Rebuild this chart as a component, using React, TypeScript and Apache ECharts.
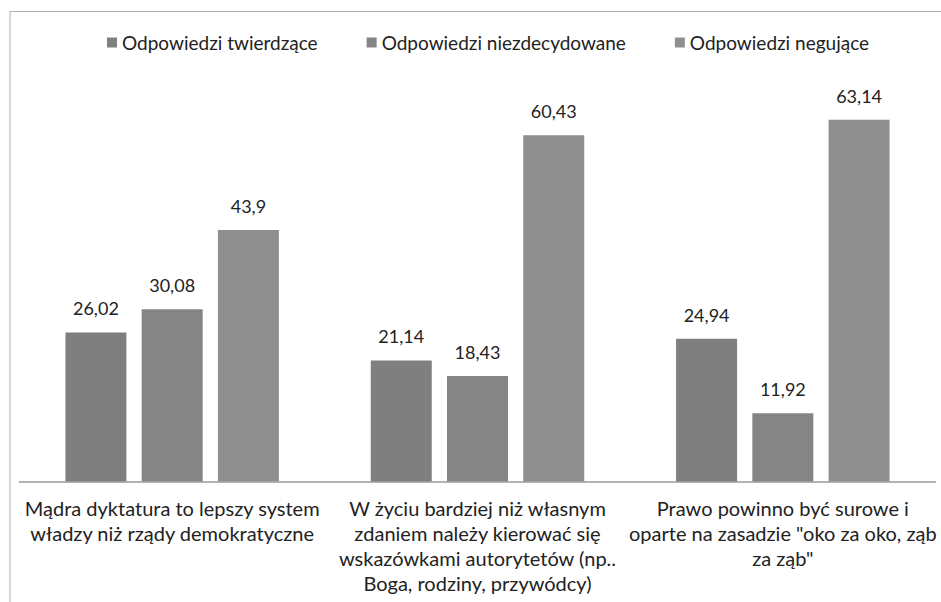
import React, { useEffect, useRef } from "react";
import * as echarts from "echarts";

const categories = [
  "Mądra dyktatura to lepszy system\nwładzy niż rządy demokratyczne",
  "W życiu bardziej niż własnym\nzdaniem należy kierować się\nwskazówkami autorytetów (np..\nBoga, rodziny, przywódcy)",
  "Prawo powinno być surowe i\noparte na zasadzie \"oko za oko, ząb\nza ząb\"",
];
const seriesNames = [
  "Odpowiedzi twierdzące",
  "Odpowiedzi niezdecydowane",
  "Odpowiedzi negujące",
];
const twierdzace = [26.02, 21.14, 24.94];
const niezdecydowane = [30.08, 18.43, 11.92];
const negujace = [43.9, 60.43, 63.14];
const colors = ["#7f7f7f", "#858585", "#8f8f8f"];

const FONT = "Lato, 'Noto Sans', sans-serif";
const fmt = (v: number) => String(v).replace(".", ",");

export default function App() {
  const ref = useRef<HTMLDivElement>(null);
  useEffect(() => {
    if (!ref.current) return;
    const chart = echarts.init(ref.current, null, { renderer: "svg" });
    const data = [twierdzace, niezdecydowane, negujace];
    chart.setOption({
      animation: false,
      backgroundColor: "#ffffff",
      textStyle: { fontFamily: FONT },
      legend: {
        top: 28,
        left: 102,
        itemWidth: 10,
        itemHeight: 10,
        itemGap: 49,
        icon: "rect",
        textStyle: { fontFamily: FONT, fontSize: 19, color: "#222" },
        data: seriesNames,
      },
      grid: { left: 19.5, right: 5.5, top: 80.5, bottom: 120.5, containLabel: false },
      xAxis: {
        type: "category",
        data: categories,
        axisTick: { show: false },
        axisLine: { lineStyle: { color: "#9a9a9a", width: 1.5 } },
        axisLabel: {
          interval: 0,
          fontFamily: FONT,
          fontSize: 20,
          lineHeight: 25,
          color: "#222",
          margin: 14,
        },
      },
      yAxis: {
        type: "value",
        min: 0,
        max: 70,
        show: false,
        splitLine: { show: false },
      },
      series: data.map((d, i) => ({
        name: seriesNames[i],
        type: "bar",
        data: d,
        barWidth: 61,
        barGap: "25%",
        itemStyle: { color: colors[i] },
        label: {
          show: true,
          position: "top",
          distance: 15,
          fontFamily: FONT,
          fontSize: 18,
          color: "#222",
          formatter: (p: any) => fmt(p.value),
        },
      })),
      graphic: [
        { type: "line", shape: { x1: 10, y1: 11.5, x2: 941, y2: 11.5 }, style: { stroke: "#b0b0b0", lineWidth: 1 } },
        { type: "line", shape: { x1: 10, y1: 11.5, x2: 10, y2: 602 }, style: { stroke: "#b0b0b0", lineWidth: 1 } },
      ],
    });
    return () => chart.dispose();
  }, []);
  return <div ref={ref} style={{ width: 941, height: 602, position: "absolute", left: 0, top: 0 }} />;
}
